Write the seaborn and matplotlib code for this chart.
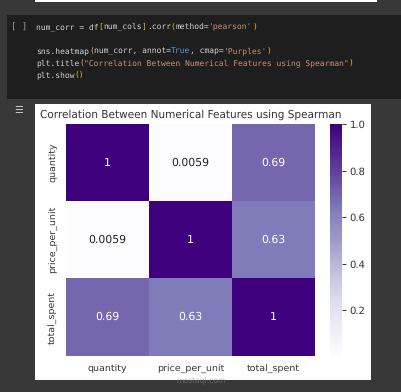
import numpy as np
import pandas as pd
import matplotlib
matplotlib.use('Agg')
import matplotlib.pyplot as plt
from matplotlib.patches import Rectangle
import seaborn as sns

plt.rcParams['text.hinting'] = 'no_hinting'

cols = ['quantity', 'price_per_unit', 'total_spent']
row_quantity = [1, 0.0059, 0.69]
row_price = [0.0059, 1, 0.63]
row_total = [0.69, 0.63, 1]

W, H = 402, 392
TXT = '#d4d4d4'
STR = '#ce9178'
BRK = '#e8b92c'
KW = '#569cd6'
code_lines = [
    (27, [('num_corr = df', TXT), ('[', BRK), ('num_cols', TXT), (']', BRK), ('.corr', TXT), ('(', BRK),
          ('method=', TXT), ("'pearson'", STR), (')', BRK)]),
    (51, [('sns.heatmap', TXT), ('(', BRK), ('num_corr, annot=', TXT), ('True', KW), (', cmap=', TXT),
          ("'Purples'", STR), (')', BRK)]),
    (63, [('plt.title', TXT), ('(', BRK), ('"Correlation Between Numerical Features using Spearman"', STR), (')', BRK)]),
    (75, [('plt.show', TXT), ('()', BRK)]),
]

df = pd.DataFrame([row_quantity, row_price, row_total], index=cols, columns=cols)

fig = plt.figure(figsize=(W / 100, H / 100), dpi=100, facecolor='#383838')


def box(x0, y0, x1, y1, color):
    fig.add_artist(Rectangle((x0 / W, 1 - y1 / H), (x1 - x0) / W, (y1 - y0) / H,
                             transform=fig.transFigure, color=color, lw=0, zorder=-1))


def axes_px(x0, y0, x1, y1):
    return fig.add_axes([x0 / W, 1 - y1 / H, (x1 - x0) / W, (y1 - y0) / H])


# notebook chrome
box(35, 0, 377, 2, 'white')
box(7, 15, 402, 99, '#1e1e1e')
box(35, 104, 371, 380, 'white')

# code cell
char_w = 4.81
for y, parts in code_lines:
    x = 36
    for s, c in parts:
        fig.text(x / W, 1 - y / H, s, color=c, family='DejaVu Sans Mono', fontsize=5.75,
                 va='center', ha='left')
        x += len(s) * char_w
fig.text(19.5 / W, 1 - 27.5 / H, '[ ]', color='#9aa0a6', family='DejaVu Sans Mono', fontsize=6.5,
         va='center', ha='center')
fig.text(19 / W, 1 - 110 / H, '\u2630', color='#c8c8c8', fontsize=7, va='center', ha='center')

# heatmap
ax = axes_px(66, 124, 315, 355.6)
cax = axes_px(330, 124, 342, 355.6)
sns.heatmap(df, annot=True, cmap='Purples', ax=ax, cbar_ax=cax, annot_kws={'fontsize': 7.8})
ax.set_title('Correlation Between Numerical Features using Spearman', fontsize=7.6, color='#333333',
             pad=4.5)
ax.tick_params(axis='both', length=0, labelsize=6.8, labelcolor='#333333', pad=6.5)
ax.tick_params(axis='x', pad=6)
plt.setp(ax.get_xticklabels(), rotation=0, ha='center')
plt.setp(ax.get_yticklabels(), rotation=90, va='center')
cax.set_yticks([0.2, 0.4, 0.6, 0.8, 1.0])
cax.tick_params(length=3, width=0.7, labelsize=7.2, labelcolor='#333333', color='#333333', pad=2.5)

# watermark
fig.text(201 / W, 1 - 380 / H, 'mostaql.com', color='#8a8a8a', alpha=0.6, fontsize=5.5, ha='center', va='center')

fig.savefig('out.png', dpi=100, facecolor=fig.get_facecolor())
